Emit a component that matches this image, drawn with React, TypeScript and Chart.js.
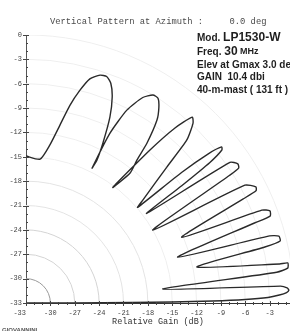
import React, { useEffect, useRef } from 'react';
import { Chart, registerables } from 'chart.js';

Chart.register(...registerables);

const TITLE = 'Vertical Pattern at Azimuth :     0.0 deg';
const X_AXIS_TITLE = 'Relative Gain (dB)';
const STAMP = 'GIOVANNINI';
const INFO_LINES: string[][] = [
  ['Mod. ', 'LP1530-W'],
  ['Freq. ', '30', ' MHz'],
  ['Elev at Gmax 3.0 deg'],
  ['GAIN  10.4 dbi'],
  ['40-m-mast ( 131 ft )'],
];
const X_TICKS = [-33, -30, -27, -24, -21, -18, -15, -12, -9, -6, -3];
const Y_TICKS = [0, -3, -6, -9, -12, -15, -18, -21, -24, -27, -30, -33];
const RING_RADII_DB = [3, 6, 9, 12, 15, 18, 21, 24, 27, 30, 33];
const FLOOR_DB = -33;

// Vertical pattern: elevation angle (deg) and relative gain (dB)
const ELEVATION_DEG = [
  90.0, 84.4, 81.4, 79.2, 77.5, 75.8, 74.1, 72.0, 70.4, 68.9, 67.3, 65.7, 64.3, 63.6, 63.9,
  63.7, 62.4, 60.4, 58.6, 57.2, 55.8, 54.4, 52.9, 52.2, 51.3, 53.1,
  51.0, 49.6, 48.2, 47.1, 45.4, 44.0, 41.4, 40.6,
  40.0, 39.3, 38.6, 38.0, 37.4, 37.0, 36.6,
  34.6, 33.3, 32.4, 32.1, 29.9,
  28.3, 26.8, 26.0, 25.6, 22.9,
  21.5, 20.7, 19.6, 19.3, 16.8,
  15.4, 14.8, 13.7, 13.2, 11.9,
  8.75, 8.7, 7.6, 7.0, 5.8,
  3.8, 3.3, 2.8, 2.3, 1.8, 1.3, 0.9, 0.6, 0.4, 0.25, 0.1, 0.0,
];
const GAIN_DB = [
  -14.9, -15.2, -13.3, -10.7, -8.1, -6.0, -4.3, -3.5, -3.4, -4.0, -5.5, -7.9, -11.2, -13.4, -14.5,
  -9.7, -6.2, -3.9, -3.0, -3.0, -3.9, -5.3, -8.3, -10.7, -12.5, -15.2,
  -8.8, -4.7, -2.3, -2.8, -4.8, -8.9, -13.8, -14.9,
  -8.0, -4.0, -2.2, -2.4, -4.5, -9.0, -14.5,
  -2.5, -1.8, -2.0, -3.4, -15.0,
  -2.4, -1.3, -1.5, -3.4, -12.2,
  -1.8, -0.9, -1.1, -3.2, -13.5,
  -1.9, -0.8, -0.8, -2.8, -11.5,
  -1.4, -0.4, -0.5, -1.9, -16.1,
  -1.6, -0.8, -0.6, -0.9, -1.8, -3.2, -6.0, -10.0, -15.0, -20.0, -27.0, -33.0,
];

const MONO = '"Liberation Mono", "DejaVu Sans Mono", monospace';
const SANS = '"Liberation Sans", Arial, sans-serif';

const decorPlugin = {
  id: 'decor',
  beforeDatasetsDraw(chart: any) {
    const { ctx, chartArea, scales } = chart;
    const x = scales.x;
    const y = scales.y;
    const cx = x.getPixelForValue(FLOOR_DB);
    const cy = y.getPixelForValue(FLOOR_DB);
    ctx.save();
    ctx.beginPath();
    ctx.rect(chartArea.left, chartArea.top, chartArea.right - chartArea.left, chartArea.bottom - chartArea.top);
    ctx.clip();
    RING_RADII_DB.forEach((r, i) => {
      const R = x.getPixelForValue(FLOOR_DB + r) - cx;
      ctx.beginPath();
      ctx.arc(cx, cy, R, -Math.PI / 2, 0);
      ctx.strokeStyle = i === 0 ? '#9a9a9a' : i < 3 ? '#d4d4d4' : i < 5 ? '#e4e4e4' : '#efefef';
      ctx.lineWidth = 1;
      ctx.stroke();
    });
    ctx.restore();
  },
  afterDraw(chart: any) {
    const { ctx, chartArea, scales } = chart;
    const x = scales.x;
    const y = scales.y;
    ctx.save();
    ctx.strokeStyle = '#444';
    ctx.lineWidth = 1;
    for (let v = -33; v <= 0; v++) {
      const py = Math.round(y.getPixelForValue(v)) + 0.5;
      const major = v % 3 === 0;
      ctx.beginPath();
      ctx.moveTo(chartArea.left - (major ? 3 : 0), py);
      ctx.lineTo(chartArea.left + (major ? 3 : 2), py);
      ctx.stroke();
    }
    for (let v = -33; v <= -1; v++) {
      const px = Math.round(x.getPixelForValue(v)) + 0.5;
      const major = v % 3 === 0;
      ctx.beginPath();
      ctx.moveTo(px, chartArea.bottom - (major ? 2 : 1));
      ctx.lineTo(px, chartArea.bottom + (major ? 3 : 2));
      ctx.stroke();
    }
    ctx.fillStyle = '#4a4a4a';
    ctx.font = `8.8px ${MONO}`;
    ctx.textAlign = 'left';
    ctx.textBaseline = 'middle';
    ctx.fillText(TITLE, 50, 22);
    ctx.fillStyle = '#1e1e1e';
    const rowsY = [38, 52, 65, 77.5, 90];
    INFO_LINES.forEach((segs, li) => {
      let cursor = 197;
      segs.forEach((s, si) => {
        let size = 10;
        if ((li === 0 && si === 1) || (li === 1 && si === 1)) size = 12;
        if (li === 1 && si === 2) size = 9;
        ctx.font = `bold ${size}px ${SANS}`;
        ctx.fillText(s, cursor, rowsY[li]);
        cursor += ctx.measureText(s).width;
      });
    });
    ctx.fillStyle = '#555';
    ctx.font = `bold 6px ${SANS}`;
    ctx.textBaseline = 'top';
    ctx.fillText(STAMP, 2, 327);
    ctx.restore();
  },
};

export default function App() {
  const ref = useRef<HTMLCanvasElement | null>(null);
  useEffect(() => {
    if (!ref.current) return;
    const points = ELEVATION_DEG.map((e, i) => {
      const r = GAIN_DB[i] - FLOOR_DB;
      const a = (e * Math.PI) / 180;
      return { x: FLOOR_DB + r * Math.cos(a), y: FLOOR_DB + r * Math.sin(a) };
    });
    const tickFont = { family: MONO, size: 7 };
    const chart = new Chart(ref.current, {
      type: 'scatter',
      data: {
        datasets: [
          {
            data: points,
            showLine: true,
            borderColor: '#2a2a2a',
            borderWidth: 1.4,
            pointRadius: 0,
            tension: 0.2,
            fill: false,
          } as any,
        ],
      },
      options: {
        responsive: false,
        animation: false,
        devicePixelRatio: 1,
        layout: { padding: { top: 35, left: 0, right: 0, bottom: 0 } },
        plugins: {
          legend: { display: false },
          tooltip: { enabled: false },
          title: { display: false },
        },
        scales: {
          x: {
            type: 'linear',
            min: -33,
            max: -0.5,
            grid: { display: false, drawTicks: false },
            border: { display: true, color: '#333', width: 1 },
            ticks: {
              font: tickFont,
              color: '#444',
              padding: 6,
              maxRotation: 0,
              autoSkip: false,
              callback: (v: any) => (v === -33 ? '-33   ' : String(v)),
            },
            afterBuildTicks: (s: any) => {
              s.ticks = X_TICKS.map((v) => ({ value: v }));
            },
            afterFit: (s: any) => {
              s.height = 28;
              s.paddingLeft = 0;
              s.paddingRight = 0;
            },
            title: {
              display: true,
              text: X_AXIS_TITLE,
              font: { family: MONO, size: 8.5 },
              color: '#333',
              padding: { top: 0, bottom: 4 },
            },
          },
          y: {
            type: 'linear',
            min: -33,
            max: 0,
            grid: { display: false, drawTicks: false },
            border: { display: true, color: '#555', width: 1 },
            ticks: { font: tickFont, color: '#444', padding: 4, autoSkip: false },
            afterBuildTicks: (s: any) => {
              s.ticks = Y_TICKS.map((v) => ({ value: v }));
            },
            afterFit: (s: any) => {
              s.width = 26;
              s.paddingTop = 0;
              s.paddingBottom = 0;
            },
          },
        },
      } as any,
      plugins: [decorPlugin],
    });
    return () => chart.destroy();
  }, []);
  return (
    <div style={{ position: 'absolute', left: 0, top: 0, width: 290, height: 331, background: '#fff' }}>
      <canvas ref={ref} width={290} height={331} style={{ display: 'block' }} />
    </div>
  );
}
